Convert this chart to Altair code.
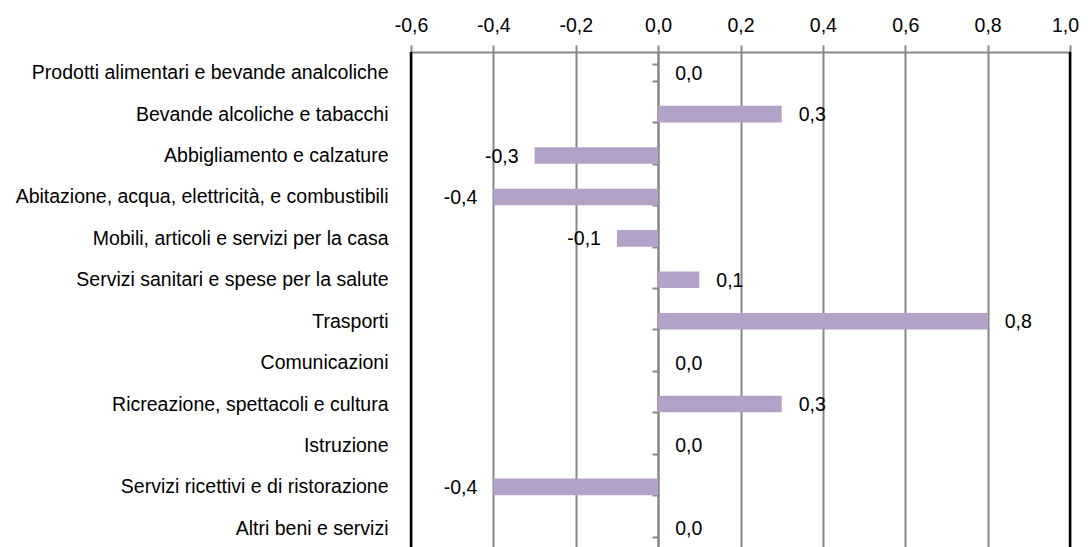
import altair as alt
import pandas as pd

categories = [
    "Prodotti alimentari e bevande analcoliche",
    "Bevande alcoliche e tabacchi",
    "Abbigliamento e calzature",
    "Abitazione, acqua, elettricità, e combustibili",
    "Mobili, articoli e servizi per la casa",
    "Servizi sanitari e spese per la salute",
    "Trasporti",
    "Comunicazioni",
    "Ricreazione, spettacoli e cultura",
    "Istruzione",
    "Servizi ricettivi e di ristorazione",
    "Altri beni e servizi",
]
values = [0.0, 0.3, -0.3, -0.4, -0.1, 0.1, 0.8, 0.0, 0.3, 0.0, -0.4, 0.0]
x_ticks = [-0.6, -0.4, -0.2, 0.0, 0.2, 0.4, 0.6, 0.8, 1.0]
x_domain = [-0.6, 1.0]

df = pd.DataFrame({"cat": categories, "val": values})
df["label"] = [f"{v:.1f}".replace(".", ",") for v in values]
borders = pd.DataFrame({"b": x_domain})

W, H = 659, 497
FONT = "Liberation Sans"
FS = 19.5
GRAY = "#878787"
BAR = "#B3A2C7"

x_scale = alt.Scale(domain=x_domain, nice=False, zero=False)
y_scale = alt.Scale(domain=categories, paddingInner=0.6, paddingOuter=0.3)

x_axis = alt.Axis(
    orient="top", values=x_ticks,
    labelExpr="replace(replace(format(datum.value, '.1f'), '.', ','), '\u2212', '-')",
    grid=True, gridColor=GRAY, gridWidth=2,
    domainColor=GRAY, domainWidth=2,
    tickColor=GRAY, tickWidth=2, tickSize=7,
    labelFont=FONT, labelFontSize=FS, labelColor="#000000",
    labelPadding=14, labelBaseline="alphabetic",
    labelFlush=False, labelOverlap=False, title=None,
    labelOffset=alt.ExprRef(expr="datum.value >= 0.99 ? -5 : 0"),
)
y_axis = alt.Axis(
    orient="left", offset=-247,
    domainColor=GRAY, domainWidth=2,
    tickBand="extent", tickColor=GRAY, tickWidth=2, tickSize=6,
    labelPadding=264, labelFont=FONT, labelFontSize=FS, labelColor="#000000",
    labelLimit=0, labelBaseline="middle", grid=False, title=None,
)

X = alt.X("val:Q", scale=x_scale, axis=x_axis)
Y = alt.Y("cat:N", sort=categories, scale=y_scale, axis=y_axis)

base = alt.Chart(df)

bars = base.mark_bar(color=BAR).encode(x=X, x2=alt.datum(0), y=Y)

pos_text = base.transform_filter("datum.val >= 0").mark_text(
    align="left", baseline="middle", dx=17, dy=1, font=FONT, fontSize=FS, color="#000000"
).encode(x=X, y=Y, text="label:N")

neg_text = base.transform_filter("datum.val < 0").mark_text(
    align="right", baseline="middle", dx=-16, dy=1, font=FONT, fontSize=FS, color="#000000"
).encode(x=X, y=Y, text="label:N")

rules = alt.Chart(borders).mark_rule(color="#000000", strokeWidth=2.5).encode(
    x=alt.X("b:Q", scale=x_scale, axis=x_axis),
    y=alt.value(0),
    y2=alt.value(H),
)

chart = alt.layer(bars, pos_text, neg_text, rules).properties(
    width=W, height=H,
    padding={"left": 403, "top": 44, "right": 10, "bottom": 0},
    autosize=alt.AutoSizeParams(type="none"),
    background="white",
).configure_view(stroke=None)

chart.save("out.html", embed_options={"renderer": "svg", "actions": False})
